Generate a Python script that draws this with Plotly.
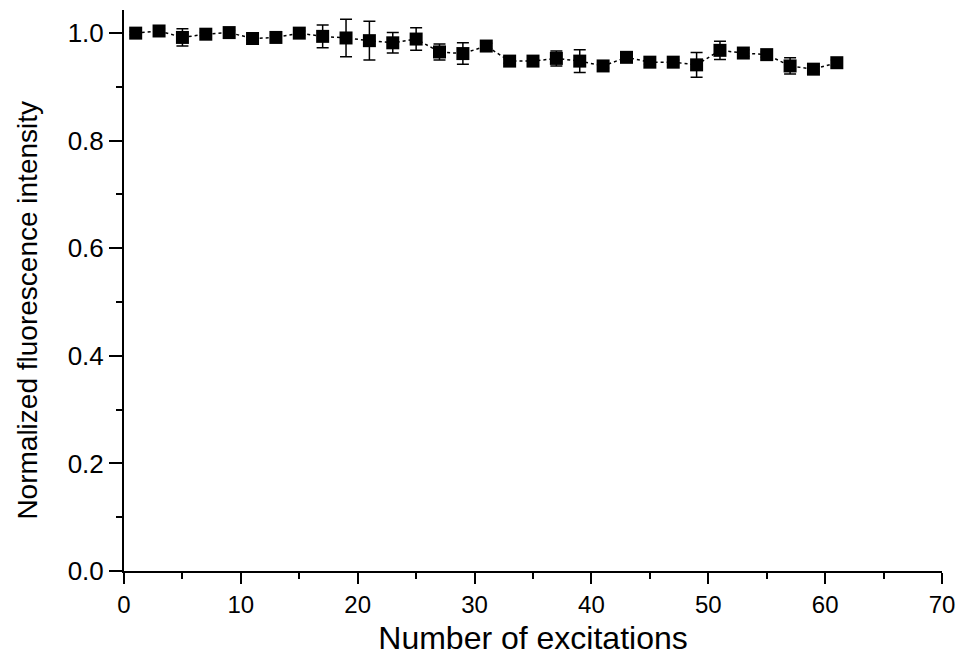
import plotly.graph_objects as go

excitations = list(range(1, 62, 2))
intensity = [1.000, 1.004, 0.992, 0.998, 1.001, 0.990, 0.992, 1.000, 0.994, 0.991,
             0.986, 0.982, 0.989, 0.965, 0.962, 0.976, 0.948, 0.948, 0.953, 0.948,
             0.939, 0.955, 0.946, 0.946, 0.941, 0.968, 0.963, 0.960, 0.939, 0.933,
             0.945]
errors = [0.003, 0.004, 0.016, 0.003, 0.004, 0.003, 0.003, 0.004, 0.021, 0.035,
          0.036, 0.019, 0.021, 0.015, 0.020, 0.005, 0.004, 0.004, 0.014, 0.021,
          0.004, 0.005, 0.004, 0.004, 0.023, 0.017, 0.006, 0.005, 0.015, 0.005,
          0.005]

FONT = "Liberation Sans, Arial, sans-serif"

fig = go.Figure()
fig.add_trace(go.Scatter(
    x=excitations, y=intensity,
    mode="lines+markers",
    line=dict(color="black", width=1.5, dash="dot"),
    marker=dict(symbol="square", size=13, color="black"),
    error_y=dict(type="data", array=errors, visible=True,
                 color="black", thickness=1.5, width=6),
    showlegend=False,
))

fig.update_layout(
    width=965, height=663,
    margin=dict(l=124, r=18, t=10, b=92),
    plot_bgcolor="white", paper_bgcolor="white",
    font=dict(family=FONT, color="black"),
    xaxis=dict(
        range=[0, 70], dtick=10, tick0=0,
        showline=True, linecolor="black", linewidth=2,
        ticks="outside", ticklen=11, tickwidth=2, tickcolor="black",
        minor=dict(dtick=5, ticks="outside", ticklen=6, tickwidth=2, tickcolor="black"),
        showgrid=False, zeroline=False,
        tickfont=dict(family=FONT, size=24, color="black"),
        title=dict(text="Number of excitations",
                   font=dict(family=FONT, size=32, color="black"),
                   standoff=10),
    ),
    yaxis=dict(
        range=[0, 1.043], dtick=0.2, tick0=0, tickformat=".1f",
        showline=True, linecolor="black", linewidth=2,
        ticks="outside", ticklen=13, tickwidth=2, tickcolor="black",
        minor=dict(dtick=0.1, ticks="outside", ticklen=6, tickwidth=2, tickcolor="black"),
        showgrid=False, zeroline=False,
        tickfont=dict(family=FONT, size=26, color="black"),
    ),
    annotations=[dict(
        text="Normalized fluorescence intensity",
        textangle=-90,
        xref="paper", yref="paper",
        x=-0.118, y=0.465,
        xanchor="center", yanchor="middle",
        showarrow=False,
        font=dict(family=FONT, size=28, color="black"),
    )],
)

fig.write_html("out.html")
